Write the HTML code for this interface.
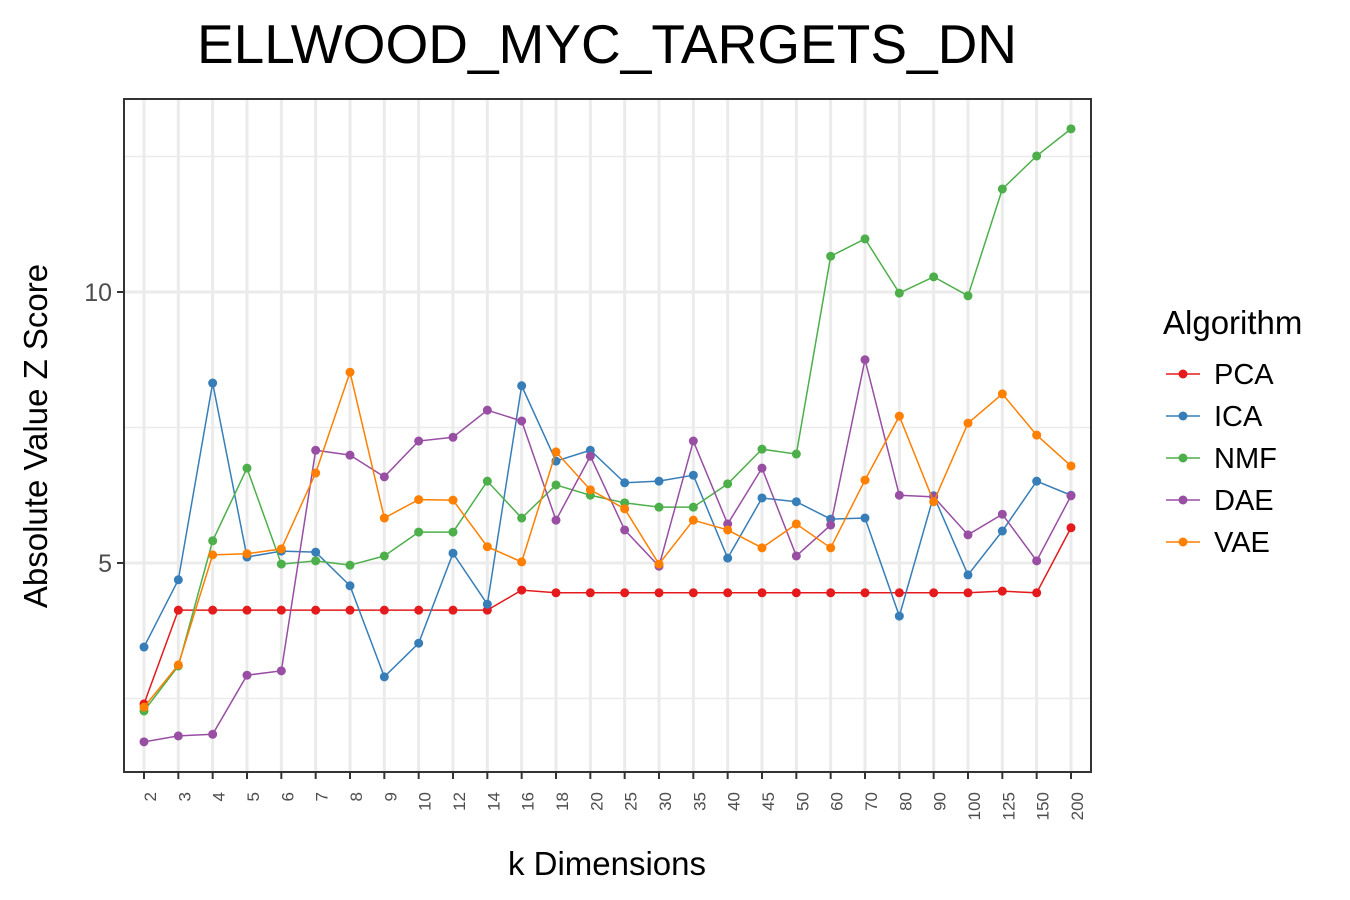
<!DOCTYPE html>
<html><head><meta charset="utf-8"><style>
body{margin:0;background:#fff;}
svg{display:block;font-family:"Liberation Sans",sans-serif;}
</style></head><body>
<svg id="chart" width="1350" height="900">
<text x="607" y="63" font-size="55" text-anchor="middle" fill="#000">ELLWOOD_MYC_TARGETS_DN</text>
<g id="grid"></g>
<g id="series"></g>
<rect x="124" y="99" width="967" height="673" fill="none" stroke="#333" stroke-width="2"/>
<g id="axes"></g>
<text x="607" y="875" font-size="33" text-anchor="middle" fill="#000">k Dimensions</text>
<text transform="translate(47,436) rotate(-90)" font-size="33" text-anchor="middle" fill="#000">Absolute Value Z Score</text>
<text x="1163" y="334" font-size="33" fill="#000">Algorithm</text>
<g id="legend"></g>
</svg>
<script>
const categories=["2","3","4","5","6","7","8","9","10","12","14","16","18","20","25","30","35","40","45","50","60","70","80","90","100","125","150","200"];
const pca=[2.40,4.13,4.13,4.13,4.13,4.13,4.13,4.13,4.13,4.13,4.13,4.50,4.45,4.45,4.45,4.45,4.45,4.45,4.45,4.45,4.45,4.45,4.45,4.45,4.45,4.48,4.45,5.65];
const ica=[3.45,4.69,8.32,5.11,5.22,5.20,4.58,2.90,3.52,5.18,4.24,8.27,6.88,7.08,6.48,6.51,6.62,5.09,6.20,6.13,5.81,5.83,4.02,6.24,4.78,5.59,6.51,6.25];
const nmf=[2.27,3.10,5.41,6.75,4.98,5.04,4.96,5.13,5.57,5.57,6.51,5.83,6.44,6.25,6.11,6.03,6.03,6.46,7.10,7.01,10.66,10.98,9.98,10.28,9.93,11.90,12.51,13.01];
const dae=[1.70,1.81,1.84,2.93,3.01,7.08,6.99,6.59,7.25,7.32,7.82,7.62,5.79,6.97,5.61,4.94,7.25,5.72,6.75,5.13,5.70,8.75,6.25,6.22,5.52,5.90,5.04,6.24];
const vae=[2.34,3.12,5.15,5.17,5.26,6.66,8.52,5.83,6.17,6.16,5.30,5.02,7.05,6.35,6.00,4.98,5.79,5.61,5.28,5.72,5.28,6.53,7.71,6.13,7.58,8.12,7.36,6.79];
const yTicks=[5,10];
const yMinor=[2.5,7.5,12.5];
const seriesNames=["PCA","ICA","NMF","DAE","VAE"];
const seriesColors=["#e41a1c","#377eb8","#4daf4a","#984ea3","#ff7f00"];
const seriesData=[pca,ica,nmf,dae,vae];

const NS="http://www.w3.org/2000/svg";
const x=i=>144+i*(1071-144)/(categories.length-1);
const y=v=>563-(v-5)*54.2;
function mk(tag,attrs,parent){const e=document.createElementNS(NS,tag);for(const k in attrs)e.setAttribute(k,attrs[k]);parent.appendChild(e);return e;}
const grid=document.getElementById('grid'),axes=document.getElementById('axes'),ser=document.getElementById('series'),leg=document.getElementById('legend');
yMinor.forEach(v=>{const l=mk('line',{x1:124,x2:1091,y1:y(v),y2:y(v),stroke:'#ebebeb','stroke-width':1.5},grid);

});
yTicks.forEach(v=>{const l=mk('line',{x1:124,x2:1091,y1:y(v),y2:y(v),stroke:'#ebebeb','stroke-width':3},grid);


const t=mk('line',{x1:117,x2:124,y1:y(v),y2:y(v),stroke:'#333','stroke-width':2},axes);


const tx=mk('text',{x:112,y:y(v)+9,'font-size':25,'text-anchor':'end',fill:'#4d4d4d'},axes);tx.textContent=v;

});
categories.forEach((c,i)=>{const l=mk('line',{x1:x(i),x2:x(i),y1:99,y2:772,stroke:'#ebebeb','stroke-width':3},grid);


const t=mk('line',{x1:x(i),x2:x(i),y1:772,y2:779,stroke:'#333','stroke-width':2},axes);


const tx=mk('text',{transform:`translate(${x(i)+12},792) rotate(-90)`,'font-size':17,'text-anchor':'end',fill:'#4d4d4d'},axes);tx.textContent=c;

});
seriesData.forEach((d,s)=>{const g=mk('g',{},ser);


const p=mk('polyline',{points:d.map((v,i)=>x(i)+','+y(v)).join(' '),fill:'none',stroke:seriesColors[s],'stroke-width':1.5},g);


d.forEach((v,i)=>{const c=mk('circle',{cx:x(i),cy:y(v),r:4.5,fill:seriesColors[s]},g);

});
const ly=374+s*42;const lg=mk('g',{},leg);


mk('line',{x1:1166,x2:1200,y1:ly,y2:ly,stroke:seriesColors[s],'stroke-width':1.5},lg);
mk('circle',{cx:1183,cy:ly,r:4.5,fill:seriesColors[s]},lg);
const t=mk('text',{x:1214,y:ly+10,'font-size':29,fill:'#000'},lg);t.textContent=seriesNames[s];});
</script>
</body></html>
